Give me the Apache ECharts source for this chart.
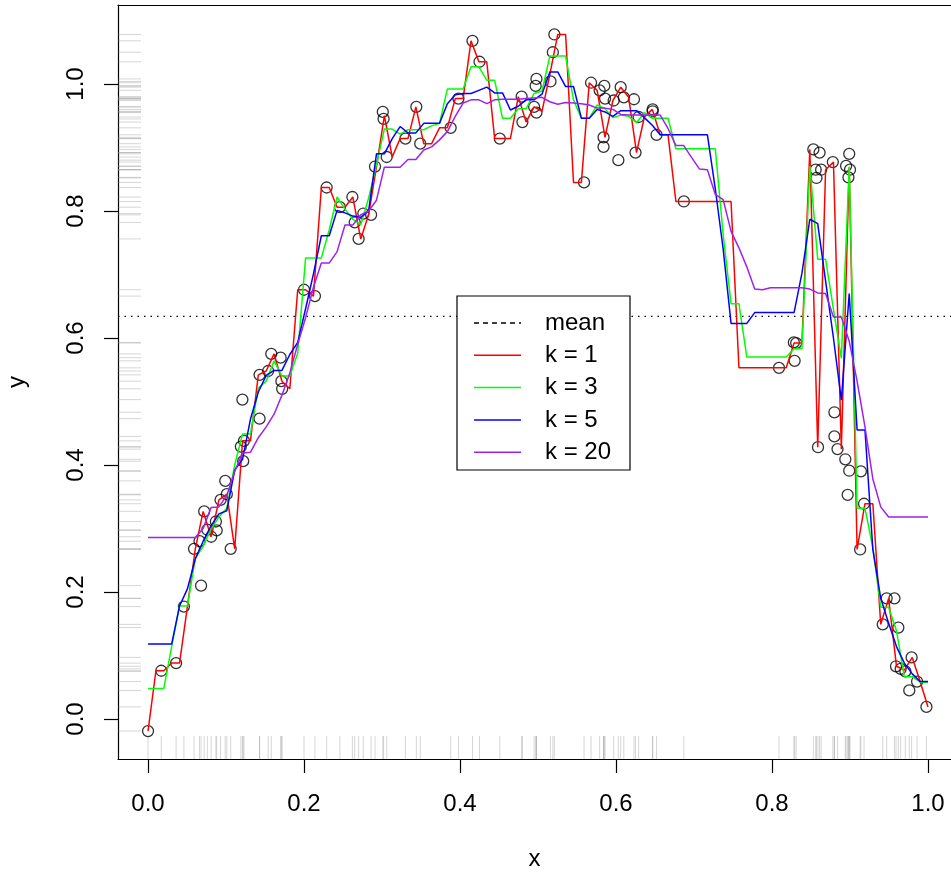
<!DOCTYPE html>
<html>
<head>
<meta charset="utf-8">
<script src="https://cdn.jsdelivr.net/npm/echarts@6/dist/echarts.min.js"></script>
<style>
html, body { margin: 0; padding: 0; background: #fff; }
#chart { width: 951px; height: 875px; }
</style>
</head>
<body>
<div id="chart"></div>
<script>
// observed points
const pointX = [0.000,0.017,0.036,0.046,0.059,0.066,0.068,0.072,0.076,0.081,
  0.087,0.088,0.093,0.099,0.101,0.106,0.119,0.121,0.122,0.123,
  0.143,0.143,0.154,0.158,0.170,0.171,0.172,0.200,0.214,0.229,
  0.246,0.262,0.265,0.270,0.276,0.286,0.291,0.301,0.302,0.306,
  0.330,0.344,0.349,0.388,0.398,0.416,0.425,0.451,0.479,0.480,
  0.495,0.497,0.498,0.498,0.516,0.519,0.521,0.559,0.568,0.579,
  0.584,0.584,0.585,0.586,0.597,0.603,0.606,0.610,0.623,0.625,
  0.629,0.647,0.647,0.652,0.687,0.809,0.828,0.829,0.831,0.853,
  0.856,0.857,0.859,0.861,0.863,0.878,0.880,0.880,0.884,0.894,
  0.895,0.897,0.898,0.899,0.899,0.900,0.913,0.914,0.918,0.942,
  0.947,0.957,0.959,0.962,0.965,0.971,0.976,0.979,0.986,0.998];
const pointY = [-0.019,0.076,0.088,0.177,0.268,0.280,0.210,0.327,0.298,0.287,
  0.311,0.297,0.345,0.375,0.354,0.268,0.429,0.503,0.406,0.438,
  0.473,0.542,0.548,0.575,0.569,0.532,0.520,0.676,0.666,0.837,
  0.806,0.822,0.782,0.756,0.796,0.794,0.870,0.956,0.945,0.885,
  0.914,0.964,0.906,0.931,0.977,1.068,1.035,0.914,0.980,0.940,
  0.964,0.997,1.008,0.955,1.004,1.050,1.078,0.845,1.002,0.990,
  0.916,0.901,0.997,0.977,0.974,0.880,0.995,0.979,0.976,0.892,
  0.948,0.960,0.957,0.920,0.815,0.553,0.593,0.564,0.592,0.897,
  0.865,0.852,0.428,0.892,0.865,0.877,0.483,0.445,0.425,0.409,
  0.871,0.353,0.853,0.890,0.391,0.865,0.267,0.390,0.339,0.149,
  0.190,0.190,0.083,0.144,0.079,0.075,0.045,0.097,0.059,0.019];

// x positions where the fits are drawn
const gridX = [0,.0101,.0202,.0303,.0404,.0505,.0606,.0707,.0808,.0909,
  .1010,.1111,.1212,.1313,.1414,.1515,.1616,.1717,.1818,.1919,
  .2020,.2121,.2222,.2323,.2424,.2525,.2626,.2727,.2828,.2929,
  .3030,.3131,.3232,.3333,.3434,.3535,.3636,.3737,.3838,.3939,
  .4040,.4141,.4242,.4343,.4444,.4545,.4646,.4747,.4848,.4949,
  .5051,.5152,.5253,.5354,.5455,.5556,.5657,.5758,.5859,.5960,
  .6061,.6162,.6263,.6364,.6465,.6566,.6667,.6768,.6869,.6970,
  .7071,.7172,.7273,.7374,.7475,.7576,.7677,.7778,.7879,.7980,
  .8081,.8182,.8283,.8384,.8485,.8586,.8687,.8788,.8889,.8990,
  .9091,.9192,.9293,.9394,.9495,.9596,.9697,.9798,.9899,1];

const fitK1 = [-0.019,0.076,0.076,0.088,0.088,0.177,0.268,0.327,0.287,0.345,
  0.354,0.268,0.438,0.438,0.542,0.548,0.575,0.532,0.520,0.676,
  0.676,0.666,0.837,0.837,0.806,0.806,0.822,0.756,0.794,0.870,
  0.950,0.885,0.914,0.914,0.964,0.906,0.906,0.931,0.931,0.977,
  0.977,1.068,1.035,1.035,0.914,0.914,0.914,0.980,0.940,0.964,
  0.957,1.015,1.078,1.078,0.845,0.845,1.002,0.990,0.916,0.974,
  0.995,0.979,0.892,0.948,0.960,0.920,0.920,0.815,0.815,0.815,
  0.815,0.815,0.815,0.815,0.815,0.553,0.553,0.553,0.553,0.553,
  0.553,0.553,0.592,0.592,0.897,0.428,0.865,0.877,0.425,0.868,
  0.267,0.339,0.339,0.149,0.190,0.083,0.077,0.097,0.059,0.019];
const fitK3 = [0.048,0.048,0.048,0.114,0.178,0.178,0.253,0.272,0.299,0.318,
  0.332,0.400,0.449,0.449,0.521,0.532,0.564,0.540,0.540,0.576,
  0.726,0.726,0.726,0.770,0.822,0.803,0.787,0.778,0.820,0.873,
  0.929,0.929,0.921,0.928,0.928,0.928,0.934,0.938,0.992,0.992,
  0.992,1.027,1.027,1.006,1.006,0.946,0.946,0.961,0.961,0.985,
  0.989,1.044,1.044,1.044,0.975,0.946,0.946,0.967,0.961,0.947,
  0.951,0.949,0.939,0.955,0.946,0.946,0.946,0.898,0.898,0.898,
  0.898,0.898,0.898,0.763,0.654,0.654,0.570,0.570,0.570,0.570,
  0.570,0.570,0.583,0.583,0.871,0.724,0.724,0.645,0.568,0.870,
  0.332,0.332,0.270,0.176,0.176,0.139,0.066,0.067,0.058,0.058];
const fitK5 = [0.118,0.118,0.118,0.118,0.178,0.205,0.252,0.280,0.304,0.323,
  0.328,0.392,0.409,0.472,0.515,0.541,0.549,0.549,0.574,0.593,
  0.646,0.701,0.761,0.761,0.801,0.797,0.792,0.790,0.800,0.890,
  0.890,0.914,0.933,0.923,0.923,0.938,0.938,0.938,0.969,0.983,
  0.985,0.985,0.990,0.995,0.986,0.986,0.959,0.965,0.975,0.975,
  0.984,1.019,1.019,0.996,0.996,0.946,0.946,0.960,0.956,0.949,
  0.958,0.958,0.958,0.947,0.935,0.920,0.920,0.920,0.920,0.920,
  0.920,0.920,0.835,0.740,0.623,0.623,0.623,0.640,0.640,0.640,
  0.640,0.640,0.640,0.702,0.787,0.780,0.690,0.600,0.502,0.670,
  0.455,0.455,0.267,0.190,0.151,0.114,0.088,0.071,0.059,0.059];
const fitK20 = [0.286,0.286,0.286,0.286,0.286,0.286,0.286,0.300,0.333,0.334,
  0.352,0.390,0.419,0.420,0.443,0.460,0.480,0.510,0.545,0.590,
  0.632,0.680,0.718,0.718,0.736,0.778,0.778,0.794,0.800,0.817,
  0.869,0.869,0.869,0.881,0.881,0.896,0.901,0.912,0.925,0.949,
  0.970,0.975,0.975,0.969,0.975,0.976,0.976,0.976,0.977,0.978,
  0.979,0.972,0.968,0.971,0.970,0.969,0.967,0.962,0.962,0.960,
  0.952,0.951,0.951,0.951,0.951,0.951,0.930,0.903,0.903,0.884,
  0.866,0.865,0.826,0.818,0.768,0.742,0.712,0.677,0.676,0.679,
  0.679,0.679,0.679,0.679,0.677,0.671,0.670,0.633,0.633,0.595,
  0.532,0.460,0.378,0.334,0.318,0.318,0.318,0.318,0.318,0.318];

const meanY = 0.634;
const xTicks = [0, 0.2, 0.4, 0.6, 0.8, 1.0];
const yTicks = [0, 0.2, 0.4, 0.6, 0.8, 1.0];
const legendNames = ['mean', 'k = 1', 'k = 3', 'k = 5', 'k = 20'];
const fitColors = ['#FF0000', '#00FF00', '#0000FF', '#A020F0'];

// plot region limits
const X_MIN = -0.0385, X_MAX = 1.0295;
const Y_MIN = -0.063, Y_MAX = 1.1244;

const FONT = '"Liberation Sans", Arial, sans-serif';
const chart = echarts.init(document.getElementById('chart'));

const zip = (xs, ys) => xs.map((x, i) => [x, ys[i]]);

function fitSeries(name, values, color) {
  return {
    name: name,
    type: 'line',
    data: zip(gridX, values),
    showSymbol: false,
    symbol: 'none',
    lineStyle: { color: color, width: 1.5 },
    silent: true,
    z: 4
  };
}

// legend drawn by hand so the mean entry can be dashed
const LEG = { x: 457, y: 296, w: 173, h: 174, row0: 323, step: 32.3, lx0: 474, lx1: 521, tx: 545 };
const legendGraphics = [{
  type: 'rect',
  shape: { x: LEG.x, y: LEG.y, width: LEG.w, height: LEG.h },
  style: { fill: '#fff', stroke: '#000', lineWidth: 1.2 },
  z: 100
}];
legendNames.forEach((nm, i) => {
  const y = LEG.row0 + i * LEG.step;
  legendGraphics.push({
    type: 'line',
    shape: { x1: LEG.lx0, y1: y, x2: LEG.lx1, y2: y },
    style: {
      stroke: i === 0 ? '#000' : fitColors[i - 1],
      lineWidth: 1.5,
      lineDash: i === 0 ? [5, 4] : null
    },
    z: 101
  });
  legendGraphics.push({
    type: 'text',
    x: LEG.tx, y: y,
    style: { text: nm, font: '24px ' + FONT, fill: '#000', verticalAlign: 'middle' },
    z: 101
  });
});

const option = {
  animation: false,
  backgroundColor: '#fff',
  grid: { left: 118, right: 0, top: 5, bottom: 116, containLabel: false, outerBoundsMode: 'none' },
  xAxis: [{
    type: 'value',
    min: X_MIN, max: X_MAX,
    name: 'x',
    nameLocation: 'middle',
    nameGap: 88,
    nameTextStyle: { fontSize: 24, color: '#000', fontFamily: FONT },
    axisLine: { show: true, onZero: false, lineStyle: { color: '#000', width: 1.2 } },
    axisTick: { show: true, length: 14, customValues: xTicks, lineStyle: { color: '#000', width: 1.2 } },
    axisLabel: {
      customValues: xTicks, margin: 33, fontSize: 24, color: '#000', fontFamily: FONT,
      formatter: v => v.toFixed(1)
    },
    splitLine: { show: false }
  }, {
    type: 'value',
    position: 'top',
    min: X_MIN, max: X_MAX,
    axisLine: { show: true, onZero: false, lineStyle: { color: '#000', width: 1.2 } },
    axisTick: { show: false },
    axisLabel: { show: false },
    splitLine: { show: false }
  }],
  yAxis: {
    type: 'value',
    min: Y_MIN, max: Y_MAX,
    name: 'y',
    nameLocation: 'middle',
    nameGap: 89,
    nameTextStyle: { fontSize: 24, color: '#000', fontFamily: FONT },
    axisLine: { show: true, onZero: false, lineStyle: { color: '#000', width: 1.2 } },
    axisTick: { show: true, length: 14, customValues: yTicks, lineStyle: { color: '#000', width: 1.2 } },
    axisLabel: {
      customValues: yTicks, rotate: 90, margin: 30, fontSize: 24, color: '#000', fontFamily: FONT,
      formatter: v => v.toFixed(1)
    },
    splitLine: { show: false }
  },
  graphic: legendGraphics,
  series: [
    {
      name: 'rugX',
      type: 'scatter',
      data: pointX.map(x => [x, Y_MIN]),
      symbol: 'rect',
      symbolSize: [1, 23],
      symbolOffset: [0, -11.5],
      itemStyle: { color: 'rgba(140,140,140,0.45)' },
      silent: true,
      z: 1
    },
    {
      name: 'rugY',
      type: 'scatter',
      data: pointY.map(y => [X_MIN, y]),
      symbol: 'rect',
      symbolSize: [23, 1],
      symbolOffset: [11.5, 0],
      itemStyle: { color: 'rgba(140,140,140,0.45)' },
      silent: true,
      z: 1
    },
    {
      name: 'points',
      type: 'scatter',
      data: zip(pointX, pointY),
      symbol: 'circle',
      symbolSize: 11,
      itemStyle: { color: 'rgba(0,0,0,0)', borderColor: '#000', borderWidth: 1.3 },
      silent: true,
      z: 2
    },
    {
      name: 'mean',
      type: 'line',
      data: [[X_MIN, meanY], [X_MAX, meanY]],
      showSymbol: false,
      symbol: 'none',
      lineStyle: { color: '#000', width: 1.2, type: [1.5, 5] },
      silent: true,
      z: 3
    },
    fitSeries('k = 1', fitK1, fitColors[0]),
    fitSeries('k = 3', fitK3, fitColors[1]),
    fitSeries('k = 5', fitK5, fitColors[2]),
    fitSeries('k = 20', fitK20, fitColors[3])
  ]
};

chart.setOption(option);
</script>
</body>
</html>
